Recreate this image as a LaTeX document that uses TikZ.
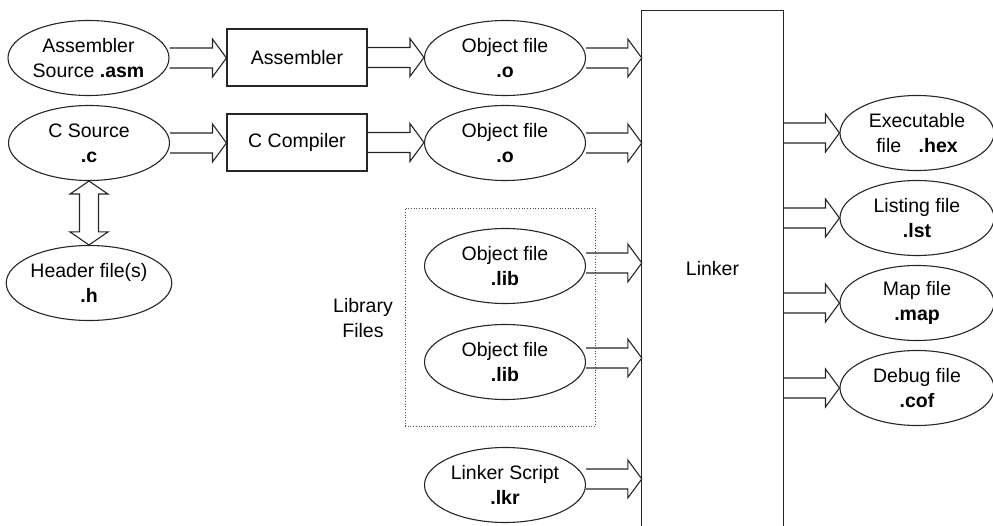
\documentclass[tikz,border=0pt]{standalone}
\usepackage{fontspec}
\setmainfont{Liberation Sans}
\usetikzlibrary{shapes.geometric,calc}
\tikzset{
  base/.style={line width=1.1pt, draw=black!85},
  file/.style={base, ellipse, minimum width=161pt, minimum height=75pt, inner sep=0pt, align=center},
  tool/.style={base, rectangle, minimum width=140pt, minimum height=57pt, inner sep=0pt, align=center},
  fat/.style={base, line join=miter},
  lbl/.style={align=center, inner sep=0pt}
}
% #1 source, #2 target (x of tip), #3 vertical shift (up) of arrow axis
\newcommand\fatarr[3]{%
  \draw[fat] let \p1=#1, \p2=#2 in
    (\x1,\y1+#3+10pt) -- (\x2-14pt,\y1+#3+10pt) -- (\x2-14pt,\y1+#3+19pt) --
    (\x2,\y1+#3) -- (\x2-14pt,\y1+#3-19pt) -- (\x2-14pt,\y1+#3-10pt) -- (\x1,\y1+#3-10pt);}
\begin{document}
\begin{tikzpicture}[x=1pt,y=-1pt,font=\fontsize{19.5}{25}\selectfont]
\useasboundingbox (0,0) rectangle (993,526);
% sources
\node[file] (asm) at (88.5,58) {Assembler\\Source \textbf{.asm}};
\node[file] (csrc) at (89,143) {C Source\\\textbf{.c}};
\node[file] (hdr) at (89,283) {Header file(s)\\\textbf{.h}};
% tools
\node[tool] (asmbox) at (297,57.5) {Assembler};
\node[tool] (ccbox) at (297,142.5) {C Compiler};
% object files
\node[file] (obj1) at (505,58) {Object file\\\textbf{.o}};
\node[file] (obj2) at (505,143) {Object file\\\textbf{.o}};
\node[file] (lib1) at (505,266) {Object file\\\textbf{.lib}};
\node[file] (lib2) at (505,362) {Object file\\\textbf{.lib}};
\node[file] (lkr) at (505,485) {Linker Script\\\textbf{.lkr}};
% library group
\node[draw=black!70, dotted, line width=0.7pt, minimum width=190pt, minimum height=218pt, inner sep=0pt] (libgroup) at (500,317) {};
\node[lbl] (libtxt) at (363,318) {Library\\Files};
% linker
\node[minimum width=141pt, minimum height=516pt, inner sep=0pt] (linker) at (712.5,269) {Linker};
\draw[base] (linker.south west) -- (linker.north west) -- (linker.north east) -- (linker.south east);
% outputs
\node[file, minimum width=154pt] (hex) at (917,133) {Executable\\file\hspace{0.9em}\textbf{.hex}};
\node[file, minimum width=154pt] (lst) at (917,218) {Listing file\\\textbf{.lst}};
\node[file, minimum width=154pt] (map) at (917,303) {Map file\\\textbf{.map}};
\node[file, minimum width=154pt] (cof) at (917,388) {Debug file\\\textbf{.cof}};
% arrows
\fatarr{(asm.east)}{(asmbox.west)}{0pt}
\fatarr{(csrc.east)}{(ccbox.west)}{0pt}
\fatarr{(asmbox.east)}{(obj1.west)}{0pt}
\fatarr{(ccbox.east)}{(obj2.west)}{0pt}
\fatarr{(obj1.east)}{(linker.west)}{0pt}
\fatarr{(obj2.east)}{(linker.west)}{0pt}
\fatarr{(lib1.east)}{(linker.west)}{3pt}
\fatarr{(lib2.east)}{(linker.west)}{4pt}
\fatarr{(lkr.east)}{(linker.west)}{6pt}
\coordinate (o1) at (linker.east |- hex.west);
\coordinate (o2) at (linker.east |- lst.west);
\coordinate (o3) at (linker.east |- map.west);
\coordinate (o4) at (linker.east |- cof.west);
\fatarr{(o1)}{(hex.west)}{0pt}
\fatarr{(o2)}{(lst.west)}{0pt}
\fatarr{(o3)}{(map.west)}{0pt}
\fatarr{(o4)}{(cof.west)}{0pt}
% double arrow C source <-> header
\draw[fat] let \p1=(csrc.south), \p2=(hdr.north) in
  (\x1,\y1) -- (\x1+19pt,\y1-13pt) -- (\x1+9.5pt,\y1-13pt) -- (\x1+9.5pt,\y2+13pt) --
  (\x1+19pt,\y2+13pt) -- (\x1,\y2) -- (\x1-19pt,\y2+13pt) -- (\x1-9.5pt,\y2+13pt) --
  (\x1-9.5pt,\y1-13pt) -- (\x1-19pt,\y1-13pt) -- cycle;
\end{tikzpicture}
\end{document}
